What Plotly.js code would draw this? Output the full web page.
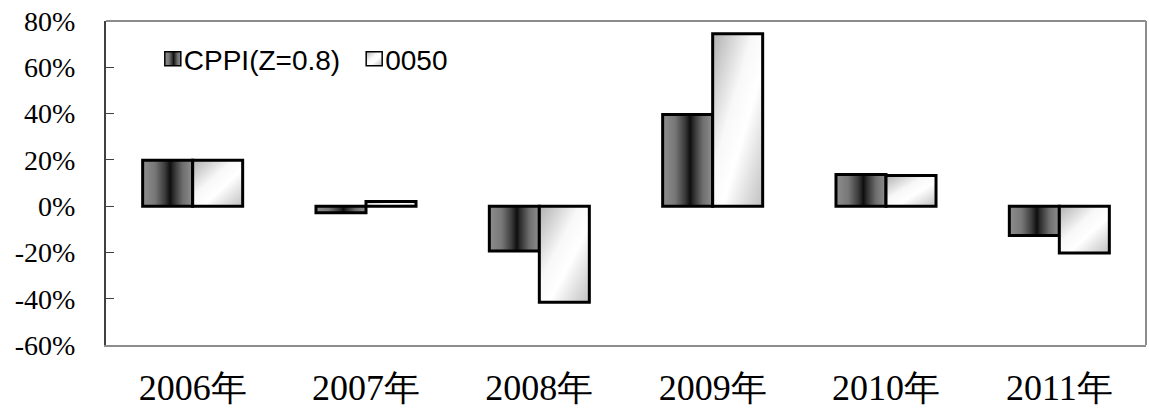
<!DOCTYPE html>
<html>
<head>
<meta charset="utf-8">
<script src="https://cdn.plot.ly/plotly-3.0.1.min.js"></script>
<style>
  html, body { margin: 0; padding: 0; background: #fff; }
  #chart { width: 1149px; height: 409px; }
  /* serif face for all axis tick labels */
  #chart .xtick text, #chart .ytick text {
    font-family: 'Liberation Serif', 'Times New Roman', serif !important;
  }
</style>
</head>
<body>
<div id="chart"></div>
<script>
// Annual returns (%) of the CPPI strategy vs. the 0050 ETF
const years = ['2006年', '2007年', '2008年', '2009年', '2010年', '2011年'];
const cppiReturns = [19.8, -2.9, -19.4, 39.6, 13.7, -12.7];
const etfReturns = [19.8, 2.0, -41.5, 74.5, 13.2, -20.3];
const seriesNames = ['CPPI(Z=0.8)', '0050'];
const yTickVals = [80, 60, 40, 20, 0, -20, -40, -60];
const yTickText = ['80%', '60%', '40%', '20%', '0%', '-20%', '-40%', '-60%'];
const boundaryTicks = [0.5, 1.5, 2.5, 3.5, 4.5];

const serif = 'Liberation Serif';

const traces = [
  {
    type: 'bar', name: seriesNames[0], x: years, y: cppiReturns,
    marker: { color: '#555555', line: { color: '#000000', width: 3 } },
    hoverinfo: 'skip'
  },
  {
    type: 'bar', name: seriesNames[1], x: years, y: etfReturns,
    marker: { color: '#eeeeee', line: { color: '#000000', width: 3 } },
    hoverinfo: 'skip'
  }
];

const layout = {
  width: 1149, height: 409,
  margin: { l: 106, r: 3, t: 21, b: 64, pad: 0 },
  paper_bgcolor: '#ffffff', plot_bgcolor: '#ffffff',
  barmode: 'group', bargap: 0.423, bargroupgap: 0,
  showlegend: true,
  legend: {
    orientation: 'h', x: 0.045, y: 0.96, xanchor: 'left', yanchor: 'top',
    bgcolor: 'rgba(0,0,0,0)', borderwidth: 0,
    font: { family: 'Liberation Sans', size: 28, color: '#000' },
    itemwidth: 30, traceorder: 'normal'
  },
  xaxis: {
    type: 'category', range: [-0.5, 5.5],
    showline: true, linecolor: '#8c8c8c', linewidth: 2,
    ticks: '', showgrid: false, zeroline: false,
    tickfont: { family: serif, size: 36, color: '#000' },
    ticklabelstandoff: 10
  },
  xaxis2: {
    overlaying: 'x', anchor: 'free', position: 60 / 140, side: 'top',
    range: [-0.5, 5.5], showline: true, linecolor: '#000000', linewidth: 1,
    ticks: 'outside', ticklen: 7, tickwidth: 1, tickcolor: '#555555',
    tickvals: boundaryTicks, showticklabels: false, showgrid: false, zeroline: false
  },
  yaxis: {
    range: [-60, 80], tickvals: yTickVals, ticktext: yTickText,
    showline: true, linecolor: '#404040', linewidth: 2,
    ticks: 'inside', ticklen: 8, tickwidth: 1, tickcolor: '#404040',
    showgrid: false, zeroline: false,
    tickfont: { family: serif, size: 28, color: '#000' },
    ticklabelstandoff: 23
  },
  shapes: [
    { type: 'line', xref: 'paper', yref: 'paper', x0: 0, x1: 1, y0: 1, y1: 1,
      line: { color: '#8c8c8c', width: 2 } },
    { type: 'line', xref: 'paper', yref: 'paper', x0: 1, x1: 1, y0: 0, y1: 1,
      line: { color: '#8c8c8c', width: 2 } }
  ]
};

Plotly.newPlot('chart', traces, layout, { staticPlot: true }).then(gd => {
  // Shaded fills for the two series: a dark vertical band and a diagonal sheen
  const svgNS = 'http://www.w3.org/2000/svg';
  const svg = gd.querySelector('svg.main-svg');
  let defs = svg.querySelector('defs');
  if (!defs) { defs = document.createElementNS(svgNS, 'defs'); svg.insertBefore(defs, svg.firstChild); }

  function gradient(id, coords, stops) {
    const g = document.createElementNS(svgNS, 'linearGradient');
    g.setAttribute('id', id);
    g.setAttribute('x1', coords[0]); g.setAttribute('y1', coords[1]);
    g.setAttribute('x2', coords[2]); g.setAttribute('y2', coords[3]);
    stops.forEach(([off, col]) => {
      const s = document.createElementNS(svgNS, 'stop');
      s.setAttribute('offset', off); s.setAttribute('stop-color', col);
      g.appendChild(s);
    });
    defs.appendChild(g);
  }
  gradient('fillCppi', ['0', '0', '1', '0'], [
    ['0', '#8e8e8e'], ['0.25', '#777777'], ['0.45', '#3a3a3a'],
    ['0.55', '#0e0e0e'], ['0.62', '#2e2e2e'], ['0.8', '#6e6e6e'], ['1', '#8e8e8e']
  ]);
  gradient('fillEtf', ['0', '0', '1', '1'], [
    ['0', '#b0b0b0'], ['0.4', '#f8f8f8'], ['0.6', '#ffffff'], ['1', '#c0c0c0']
  ]);

  const ids = ['fillCppi', 'fillEtf'];
  gd.querySelectorAll('.barlayer .trace.bars').forEach((tr, i) => {
    tr.querySelectorAll('path').forEach(p => { p.style.fill = 'url(#' + ids[i] + ')'; });
  });
  // Larger legend swatches, with the label pulled closer to its swatch
  gd.querySelectorAll('.legend .traces').forEach((tr, i) => {
    tr.querySelectorAll('.legendpoints path').forEach(p => {
      p.setAttribute('d', 'M8,7H-8V-7H8Z');
      p.style.fill = 'url(#' + ids[i] + ')';
      p.style.stroke = '#000'; p.style.strokeWidth = '1.5px';
    });
    const t = tr.querySelector('text.legendtext');
    if (t) t.setAttribute('x', parseFloat(t.getAttribute('x')) - 9);
  });
});
</script>
</body>
</html>
